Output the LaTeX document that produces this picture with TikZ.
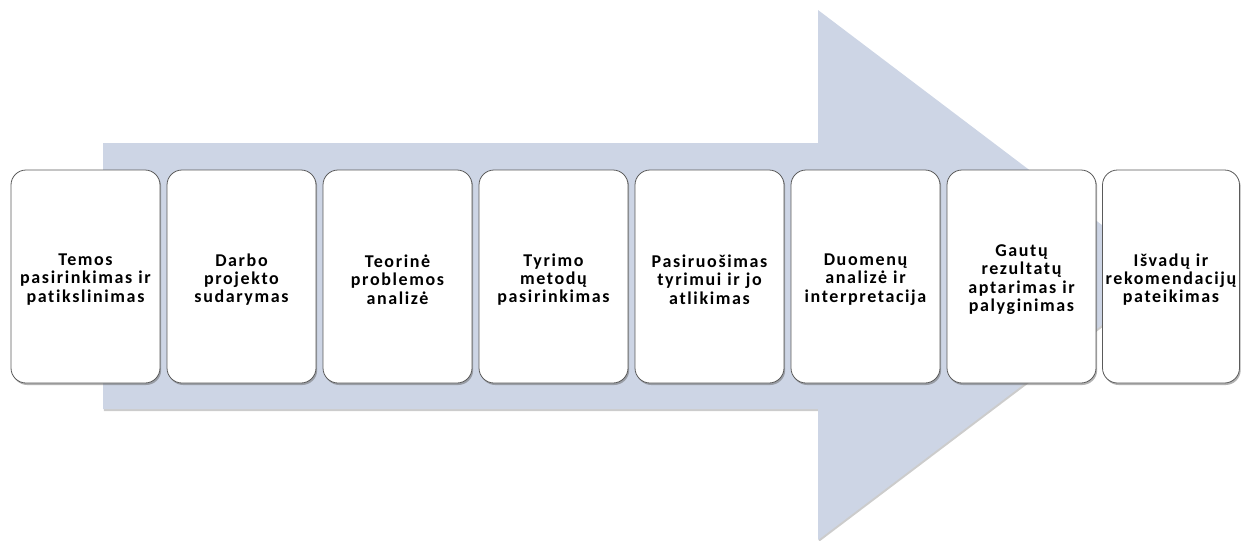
\documentclass[tikz,border=0pt]{standalone}
\usepackage{fontspec}
\setmainfont{Carlito}
\newfontfamily\boxfont[LetterSpace=9,Ligatures=NoCommon]{Carlito}
\usetikzlibrary{shadows}
\definecolor{arrowblue}{HTML}{CDD5E5}
\definecolor{boxline}{HTML}{5A5A5A}
\begin{document}
\begin{tikzpicture}[x=1pt,y=-1pt,
  stepbox/.style={draw=boxline, line width=0.8pt, fill=white, rounded corners=15pt,
    minimum width=149pt, minimum height=213pt, inner sep=0pt,
    drop shadow={shadow xshift=1.2pt, shadow yshift=-2pt, opacity=0.5, fill=black!60}},
  boxtext/.style={inner sep=1pt, text width=147pt, align=center, yshift=-3pt,
    font=\boxfont\fontsize{18}{18.3}\selectfont\bfseries},
  bigarrow/.style={fill=arrowblue, drop shadow={shadow xshift=0.8pt, shadow yshift=-2pt, opacity=0.4}}]
\useasboundingbox (0,0) rectangle (1243,541);
\path[bigarrow] (103,143) -- (818,143) -- (818,10) -- (1168,275) -- (818,540) -- (818,409) -- (103,409) -- cycle;
\node[stepbox, label={[boxtext]center:{Temos\\pasirinkimas ir\\patikslinimas}}] (b1) at (85.5,276.5) {};
\node[stepbox, label={[boxtext]center:{Darbo\\projekto\\sudarymas}}] (b2) at (241.5,276.5) {};
\node[stepbox, label={[boxtext]center:{Teorinė\\problemos\\analizė}}] (b3) at (397.5,276.5) {};
\node[stepbox, label={[boxtext]center:{Tyrimo\\metodų\\pasirinkimas}}] (b4) at (553.5,276.5) {};
\node[stepbox, label={[boxtext]center:{Pasiruošimas\\tyrimui ir jo\\atlikimas}}] (b5) at (709.5,276.5) {};
\node[stepbox, label={[boxtext]center:{Duomenų\\analizė ir\\interpretacija}}] (b6) at (865.5,276.5) {};
\node[stepbox, label={[boxtext]center:{Gautų\\rezultatų\\aptarimas ir\\palyginimas}}] (b7) at (1021.5,276.5) {};
\node[stepbox, minimum width=137pt, label={[boxtext, text width=135pt]center:{Išvadų ir\\rekomendacijų\\pateikimas}}] (b8) at (1171,276.5) {};
\end{tikzpicture}
\end{document}
